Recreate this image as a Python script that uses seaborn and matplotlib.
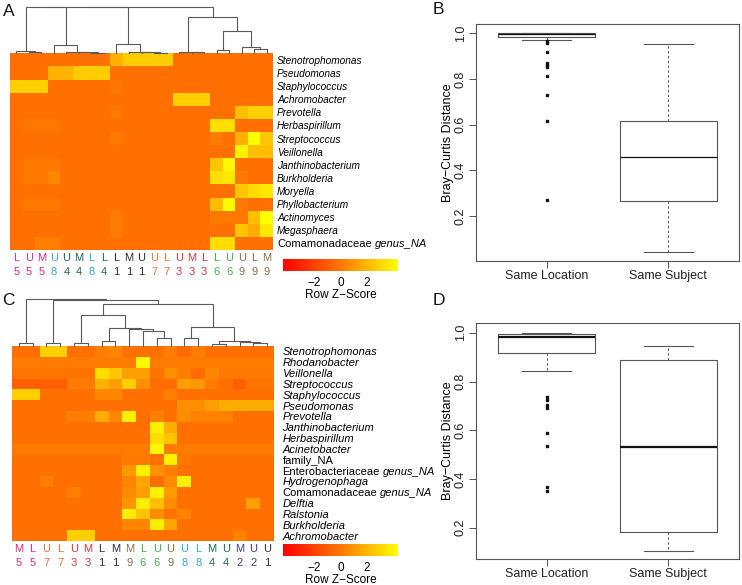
import numpy as np
import pandas as pd
import matplotlib
matplotlib.use("Agg")
import matplotlib.pyplot as plt
import seaborn as sns
from matplotlib.colors import LinearSegmentedColormap

# ---------------------------------------------------------------- data
taxa_a = ["Stenotrophomonas", "Pseudomonas", "Staphylococcus", "Achromobacter",
          "Prevotella", "Herbaspirillum", "Streptococcus", "Veillonella",
          "Janthinobacterium", "Burkholderia", "Moryella", "Phyllobacterium",
          "Actinomyces", "Megasphaera", "Comamonadaceae|genus_NA"]
letters_a = ["L", "U", "M", "U", "U", "M", "L", "L", "L", "M", "U",
             "U", "L", "U", "M", "L", "L", "U", "U", "L", "M"]
subjects_a = [5, 5, 5, 8, 4, 4, 8, 4, 1, 1, 1, 7, 7, 3, 3, 3, 6, 6, 9, 9, 9]
z_a = [
    [-.3, -.3, -.3, -.3, -.3, -.3, -.3, -.3, 1.8, 2.7, 2.7, 2.7, 2.7, -.3, -.3, -.3, -.3, -.3, -.3, -.3, -.3],
    [-.3, -.3, -.3, 1.9, 1.9, 2.7, 2.7, 2.7, -.3, -.3, -.3, -.3, -.3, -.3, -.3, -.3, -.3, -.3, -.3, -.3, -.3],
    [2.8, 2.8, 2.8, -.3, -.3, -.3, -.3, -.3, -.1, -.3, -.3, -.3, -.3, -.3, -.3, -.3, -.3, -.3, -.3, -.3, -.3],
    [-.3, -.3, -.3, -.3, -.3, -.3, -.3, -.3, -.3, -.3, -.3, -.3, -.3, 2.8, 2.8, 2.8, -.3, -.3, -.3, -.3, -.3],
    [-.3, -.3, -.3, -.3, -.3, -.3, -.3, -.3, 0.0, -.3, -.3, -.3, -.3, -.3, -.3, -.3, -.3, -.3, 2.3, 2.8, 2.8],
    [-.3, -.1, -.1, -.1, -.3, -.3, -.3, -.3, -.3, -.3, -.3, -.3, -.3, -.3, -.3, -.3, 3.3, 3.3, -.3, -.3, -.3],
    [-.3, -.3, -.3, -.3, -.3, -.3, -.3, -.3, 0.0, -.3, -.3, -.3, -.3, -.3, -.3, -.3, 0.1, -.3, 1.8, 4.3, 2.5],
    [-.3, -.3, -.3, -.3, -.3, -.3, -.3, -.3, -.3, -.3, -.3, -.3, -.3, -.3, -.3, -.3, -.3, -.3, 3.9, 2.3, 2.3],
    [-.3, 0.0, 0.0, 0.0, -.3, -.3, -.3, -.3, -.3, -.3, -.3, -.3, -.3, -.3, -.3, -.3, 2.5, 4.1, -.3, -.3, -.3],
    [-.3, 0.0, 0.0, 0.5, -.3, -.3, -.3, -.3, -.3, -.3, -.3, -.3, -.3, -.3, -.3, -.3, 3.3, 3.6, 0.0, -.3, -.3],
    [-.3, -.3, -.3, -.3, -.3, -.3, -.3, -.3, -.3, -.3, -.3, -.3, -.3, -.3, -.3, -.3, -.3, -.3, 2.5, 3.2, 3.6],
    [-.3, 0.0, 0.0, 0.0, -.3, -.3, -.3, -.3, -.3, -.3, -.3, -.3, -.3, -.3, -.3, -.3, 2.3, 4.3, 0.1, -.3, -.3],
    [-.3, -.3, -.3, -.3, -.3, -.3, -.3, -.3, 0.1, -.3, -.3, -.3, -.3, -.3, -.3, -.3, 0.0, 0.0, 0.0, 2.3, 4.3],
    [-.3, -.3, -.3, -.3, -.3, -.3, -.3, -.3, 0.1, -.3, -.3, -.3, -.3, -.3, -.3, -.3, -.3, -.3, 2.5, 1.7, 3.6],
    [-.3, -.3, 0.2, 0.2, -.3, -.3, -.3, -.3, -.3, -.3, -.3, -.3, -.3, -.3, -.3, -.3, 3.3, 3.3, -.3, -.3, -.3],
]
# column dendrogram A: merge (left, right, height); ids >= 21 are earlier merges
dend_a_left = [1, 0, 6, 5, 4, 3, 11, 10, 9, 8, 14, 13, 16, 19, 18, 33, 32, 22, 38, 39]
dend_a_right = [2, 21, 7, 23, 24, 25, 12, 27, 28, 29, 15, 31, 17, 20, 34, 35, 36, 26, 30, 37]
dend_a_height = [0.021, 0.057, 0.014, 0.021, 0.036, 0.179, 0.014, 0.021, 0.036, 0.193,
                 0.021, 0.036, 0.071, 0.086, 0.143, 0.479, 0.771, 0.990, 0.995, 1.0]

taxa_c = ["Stenotrophomonas", "Rhodanobacter", "Veillonella", "Streptococcus",
          "Staphylococcus", "Pseudomonas", "Prevotella", "Janthinobacterium",
          "Herbaspirillum", "Acinetobacter", "family_NA",
          "Enterobacteriaceae|genus_NA", "Hydrogenophaga",
          "Comamonadaceae|genus_NA", "Delftia", "Ralstonia",
          "Burkholderia", "Achromobacter"]
letters_c = ["M", "L", "U", "L", "U", "M", "L", "M", "M", "L",
             "U", "U", "U", "L", "M", "U", "M", "U", "U"]
subjects_c = [5, 5, 7, 7, 3, 3, 1, 1, 9, 6, 6, 9, 8, 8, 4, 4, 2, 2, 1]
z_c = [
    [-.3, -.3, 2.8, 2.8, -.3, -.3, 0.2, 0.5, -.3, -.3, -.3, 0.2, -.5, 0.2, -.3, -.3, -.3, -.3, -.3],
    [0.1, 0.1, 0.1, 0.1, 0.1, 0.1, 0.1, 0.1, 0.1, 4.1, 0.1, 0.1, 0.1, 0.1, 0.1, 0.1, 0.1, 0.1, 0.1],
    [-.2, -.2, -.2, -.2, -.2, -.2, 3.3, 2.5, 1.2, 1.2, -.2, 0.7, 0.2, -.4, 0.4, 0.0, 0.0, 0.0, 0.0],
    [-.9, -.9, -.9, -.9, 0.1, 0.1, 1.8, 1.2, 2.8, 0.7, -.4, -.4, 1.2, 1.0, 0.1, -.4, -.9, -.2, -.2],
    [2.8, 2.8, -.3, -.3, -.3, -.3, 0.5, 0.5, -.3, -.3, -.3, 0.2, -.3, -.3, -.3, -.3, -.3, -.3, -.3],
    [-.3, -.3, -.3, -.3, -.3, -.3, -.3, -.3, -.3, -.3, -.3, -.3, 0.7, 0.7, 1.2, 1.7, 1.7, 1.7, 1.7],
    [-.3, -.3, -.3, -.3, 0.2, 0.2, 1.7, 0.5, 3.8, -.3, 0.2, -.3, 0.6, 0.3, 0.3, 0.3, -.3, -.3, -.3],
    [-.3, -.3, -.3, -.3, -.3, -.3, -.3, -.3, -.3, -.3, 3.8, 1.7, -.3, -.3, -.3, -.3, -.3, -.3, -.3],
    [-.3, -.3, -.3, -.3, -.3, -.3, -.3, -.3, -.3, -.3, 3.3, 2.4, -.3, -.3, -.3, -.3, -.3, -.3, -.3],
    [0.1, 0.1, 0.1, 0.1, 0.1, 0.1, 0.1, 0.1, 0.1, 0.1, 4.1, 0.1, 0.1, 0.1, 0.1, 0.1, 0.1, 0.1, 0.1],
    [-.3, -.3, -.3, -.3, -.3, -.3, -.3, -.3, 0.0, 0.0, -.3, 3.9, 0.0, -.3, -.3, -.3, -.3, -.3, -.3],
    [-.3, -.3, -.3, -.3, -.3, -.3, -.3, -.3, 1.0, 3.9, 0.7, 0.2, -.3, -.3, -.3, -.3, -.3, -.3, -.3],
    [-.3, -.3, 0.2, -.3, -.3, -.3, -.3, -.3, 0.4, 1.5, -.4, 0.6, 3.9, -.3, -.3, -.3, -.3, -.3, -.3],
    [-.3, -.3, -.3, -.3, 0.2, -.3, -.3, -.3, 0.6, 1.2, 3.9, 1.1, -.3, -.3, -.3, -.3, -.3, -.3, -.3],
    [-.3, -.3, -.3, -.3, -.3, -.3, -.3, -.3, 0.9, 3.8, 2.3, 0.6, -.3, -.3, -.3, -.3, -.3, 1.2, -.3],
    [-.3, -.3, -.3, -.3, -.3, -.3, -.3, -.3, 3.8, 2.4, 0.6, -.2, 0.4, -.3, -.3, -.3, -.3, -.3, -.3],
    [-.3, -.3, -.3, -.3, -.3, -.3, -.3, -.3, 0.4, 0.4, 3.8, 1.4, -.3, -.3, -.3, -.3, -.3, -.3, -.3],
    [-.3, -.3, -.3, -.3, 2.8, 2.8, -.3, -.3, -.3, -.3, -.3, -.3, -.3, -.3, -.3, -.3, 0.3, -.3, -.3],
]
dend_c_left = [0, 2, 4, 6, 10, 9, 8, 22, 21, 12, 14, 17, 16, 29, 28, 27, 20, 19]
dend_c_right = [1, 3, 5, 7, 11, 23, 24, 25, 26, 13, 15, 18, 30, 31, 32, 33, 34, 35]
dend_c_height = [0.057, 0.057, 0.057, 0.113, 0.163, 0.326, 0.355, 0.390, 0.660,
                 0.177, 0.043, 0.071, 0.092, 0.113, 0.397, 0.894, 0.979, 1.0]

z_limit = 4.36

groups = ["Same Location", "Same Subject"]
b_q1 = [0.9855, 0.265]
b_med = [0.997, 0.458]
b_q3 = [1.0, 0.618]
b_whislo = [0.973, 0.043]
b_whishi = [1.0, 0.954]
b_fliers_location = [0.968, 0.959, 0.92, 0.869, 0.862, 0.854, 0.813, 0.73, 0.614, 0.271]

d_q1 = [0.917, 0.181]
d_med = [0.983, 0.532]
d_q3 = [0.996, 0.889]
d_whislo = [0.843, 0.104]
d_whishi = [1.0, 0.947]
d_fliers_location = [0.735, 0.724, 0.703, 0.69, 0.59, 0.536, 0.368, 0.352]

y_ticks = [0.2, 0.4, 0.6, 0.8, 1.0]

# ---------------------------------------------------------------- style
plt.rcParams["font.family"] = ["Liberation Sans", "DejaVu Sans"]

subject_colors = {1: "#2e2e2e", 2: "#3d3f94", 3: "#d9363e", 4: "#1f6b48",
                  5: "#d6298f", 6: "#4aa955", 7: "#e07238", 8: "#36a6d8",
                  9: "#8a6e4e"}
cmap = LinearSegmentedColormap.from_list(
    "heatlike", [(0.0, "#ff0000"), (0.5, "#ff7800"), (1.0, "#ffff00")])
dend_color = "#5a5a5a"
axis_color = "#555555"

W, H = 742, 585
fig = plt.figure(figsize=(W / 100, H / 100), dpi=100)


def px_axes(x0, y0, x1, y1):
    return fig.add_axes([x0 / W, 1 - y1 / H, (x1 - x0) / W, (y1 - y0) / H])


def draw_dendro(ax, lefts, rights, heights, n):
    pos = {i: i + 0.5 for i in range(n)}
    hgt = {i: 0.0 for i in range(n)}
    for k, (a, b, h) in enumerate(zip(lefts, rights, heights)):
        xa, xb = pos[a], pos[b]
        ax.plot([xa, xa, xb, xb], [hgt[a], h, h, hgt[b]], color=dend_color,
                lw=0.8, clip_on=False, solid_joinstyle="miter")
        pos[n + k] = (xa + xb) / 2
        hgt[n + k] = h
    ax.set_xlim(0, n)
    ax.set_ylim(0, 1)
    ax.axis("off")


def draw_heat(ax, cax, z, taxa, letters, subjects, row_pad, it_size):
    cols = [f"{l}\n{s}" for l, s in zip(letters, subjects)]
    shown = [t.split("|")[0] for t in taxa]
    df = pd.DataFrame(z, index=shown, columns=cols)
    sns.heatmap(df, ax=ax, cmap=cmap, vmin=-z_limit, vmax=z_limit,
                cbar=True, cbar_ax=cax, cbar_kws={"orientation": "horizontal"},
                xticklabels=True, yticklabels=True)
    ax.yaxis.tick_right()
    ax.tick_params(axis="y", length=0, pad=row_pad, labelsize=8)
    ax.tick_params(axis="x", length=0, pad=2, labelsize=8)
    for lbl, full in zip(ax.get_yticklabels(), taxa):
        lbl.set_rotation(0)
        lbl.set_ha("left")
        if "|" in full:
            lbl.set_fontstyle("normal")
            ax.annotate(full.split("|")[1], xy=(1, 0), xycoords=lbl,
                        xytext=(2.2, 0), textcoords="offset points",
                        ha="left", va="bottom", fontsize=8, fontstyle="italic",
                        annotation_clip=False)
        elif "NA" in full:
            lbl.set_fontstyle("normal")
        else:
            lbl.set_fontstyle("italic")
            lbl.set_fontsize(it_size)
    for lbl, s in zip(ax.get_xticklabels(), subjects):
        lbl.set_rotation(0)
        lbl.set_color(subject_colors[s])
        lbl.set_linespacing(1.55)
    ax.set_xlabel("")
    ax.set_ylabel("")
    cb = ax.collections[0].colorbar
    cb.set_ticks([-2, 0, 2])
    cb.outline.set_visible(False)
    cax.tick_params(length=0, labelsize=8.5, pad=4)
    cax.set_xlabel("Row Z\u2212Score", fontsize=8.5, labelpad=0)


def draw_box(ax, q1, med, q3, lo, hi, fliers, ylim, med_lw):
    stats = []
    for i, g in enumerate(groups):
        stats.append(dict(label=g, q1=q1[i], med=med[i], q3=q3[i],
                          whislo=lo[i], whishi=hi[i],
                          fliers=fliers if i == 0 else []))
    ax.bxp(stats, positions=[1, 2], widths=0.8, capwidths=0.4,
           boxprops=dict(color=axis_color, lw=0.8),
           whiskerprops=dict(color=axis_color, lw=0.7, linestyle=(0, (2.5, 2.5))),
           capprops=dict(color=axis_color, lw=0.8),
           medianprops=dict(color="#111111", lw=med_lw),
           flierprops=dict(marker="s", markersize=1.9, markerfacecolor="#111111",
                           markeredgecolor="#111111", linestyle="none"))
    ax.set_xlim(0.42, 2.58)
    ax.set_ylim(*ylim)
    ax.set_yticks(y_ticks)
    ax.set_yticklabels([f"{t:.1f}" for t in y_ticks], rotation=90, va="center")
    ax.set_xticks([1, 2])
    ax.set_xticklabels(groups)
    ax.tick_params(axis="both", labelsize=9, length=5, width=0.7,
                   color=axis_color, colors="#222222")
    ax.tick_params(axis="y", pad=1.5)
    ax.tick_params(axis="x", pad=1.5)
    for sp in ax.spines.values():
        sp.set_color(axis_color)
        sp.set_linewidth(0.8)
    ax.set_ylabel("Bray\u2212Curtis Distance", fontsize=9, labelpad=1)
    ax.set_facecolor("white")


# ---------------------------------------------------------------- panel A
ax_ha = px_axes(10, 53.3, 273, 250)
ax_da = px_axes(10, 6.7, 273, 53.3)
cax_a = px_axes(283, 259, 398, 271)
draw_heat(ax_ha, cax_a, z_a, taxa_a, letters_a, subjects_a, 3, 7.3)
draw_dendro(ax_da, dend_a_left, dend_a_right, dend_a_height, len(letters_a))

# ---------------------------------------------------------------- panel C
ax_hc = px_axes(12, 346, 274, 541)
ax_dc = px_axes(12, 299, 274, 346)
cax_c = px_axes(283, 544, 398, 556)
draw_heat(ax_hc, cax_c, z_c, taxa_c, letters_c, subjects_c, 6, 8)
draw_dendro(ax_dc, dend_c_left, dend_c_right, dend_c_height, len(letters_c))

# ---------------------------------------------------------------- panels B, D
ax_b = px_axes(476, 24, 739, 261)
draw_box(ax_b, b_q1, b_med, b_q3, b_whislo, b_whishi, b_fliers_location,
         (0.003, 1.041), 0.9)
ax_d = px_axes(476, 323, 739, 559)
draw_box(ax_d, d_q1, d_med, d_q3, d_whislo, d_whishi, d_fliers_location,
         (0.072, 1.04), 1.6)

# ---------------------------------------------------------------- letters
for lab, x, y in [("A", 3, 11), ("B", 433, 10), ("C", 2, 301), ("D", 433, 301)]:
    fig.text(x / W, 1 - y / H, lab, fontsize=12.5, ha="left", va="center",
             color="#111111")

fig.savefig("out.png", dpi=100, facecolor="white")
